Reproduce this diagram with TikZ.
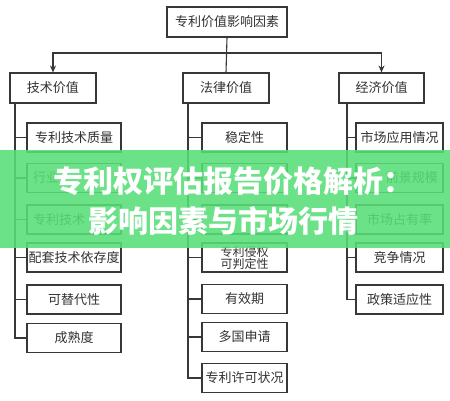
\documentclass[tikz,border=0pt]{standalone}
\usepackage{fontspec}
\newfontfamily\cjk{Noto Sans CJK SC}
\usetikzlibrary{arrows.meta}
\definecolor{linec}{RGB}{55,55,55}
\definecolor{txtc}{RGB}{50,50,50}
\definecolor{bannergreen}{RGB}{88,222,120}
\tikzset{
  box/.style={draw=linec, line width=1.1pt, fill=white, minimum height=29pt, inner sep=0pt,
    font=\cjk\fontsize{13}{14}\selectfont, text=txtc},
  lbox/.style={box, minimum width=94pt},
  mbox/.style={box, minimum width=85pt},
  rbox/.style={box, minimum width=87pt},
  conn/.style={draw=linec, line width=1.1pt},
  arr/.style={conn, -{Stealth[length=7pt,width=6pt]}},
  frag/.style={font=\cjk\fontsize{13}{14}\selectfont, text=txtc, inner sep=0pt},
  bannertext/.style={font=\cjk\bfseries\fontsize{30}{32}\selectfont, text=white, inner sep=0pt},
}
\begin{document}
\begin{tikzpicture}[x=1pt,y=-1pt]
\useasboundingbox (0,0) rectangle (450,400);
\fill[white] (0,0) rectangle (450,400);

% top level
\node[box, minimum width=120pt, minimum height=30pt] (top) at (227,22) {专利价值影响因素};
\node[box, minimum width=86pt, minimum height=30pt] (tech) at (53,88) {技术价值};
\node[box, minimum width=86pt, minimum height=30pt] (law) at (226,88) {法律价值};
\node[box, minimum width=85pt, minimum height=30pt] (econ) at (381.5,88) {经济价值};

\coordinate (j) at (227,53);
\draw[conn] (top.south) -- (law.north);
\draw[arr] (j) -| (tech.north);
\draw[arr] (j) -| (econ.north);

% left column
\node[lbox] (a1) at (74,137.5) {专利技术质量};
\node[lbox] (a2) at (74,178) {};
\node[lbox] (a3) at (74,219.5) {};
\node[lbox] (a4) at (74,257.5) {配套技术依存度};
\node[lbox] (a5) at (74,299.5) {可替代性};
\node[lbox] (a6) at (74,338) {成熟度};
\node[frag, anchor=west] (a2t) at (33,178) {行业};
\node[frag, anchor=west] (a3t) at (33,219.5) {专利技术};

% middle column
\node[mbox] (b1) at (244.5,137.5) {稳定性};
\node[mbox] (b2) at (244.5,178) {};
\node[mbox] (b3) at (244.5,219.5) {};
\node[mbox, align=center, font=\cjk\fontsize{12}{12}\selectfont] (b4) at (244.5,257.5) {专利侵权\\可判定性};
\node[mbox] (b5) at (244.5,299) {有效期};
\node[mbox] (b6) at (244.5,337) {多国申请};
\node[mbox] (b7) at (244.5,378) {专利许可状况};

% right column
\node[rbox] (c1) at (399.5,137.5) {市场应用情况};
\node[rbox] (c2) at (399.5,178) {};
\node[rbox] (c3) at (399.5,219.5) {市场占有率};
\node[rbox] (c4) at (399.5,257.5) {竞争情况};
\node[rbox] (c5) at (399.5,299.5) {政策适应性};
\node[frag, anchor=east] (c2t) at (438,178) {前景规模};

% trunks
\coordinate (lt) at (15,103);
\coordinate (mt) at (188,103);
\coordinate (rt) at (347,103);
\draw[conn] (lt) |- (a6.west);
\foreach \n in {a1,a2,a3,a4,a5} \draw[conn] (lt |- \n.west) -- (\n.west);
\draw[conn] (mt) |- (b7.west);
\foreach \n in {b1,b2,b3,b4,b5,b6} \draw[conn] (mt |- \n.west) -- (\n.west);
\draw[conn] (rt) |- (c5.west);
\foreach \n in {c1,c2,c3,c4} \draw[conn] (rt |- \n.west) -- (\n.west);

% banner
\fill[bannergreen, opacity=0.88] (0,150) rectangle (450,248);
\node[bannertext, anchor=west] (bt1) at (53,181) {专利权评估报告价格解析：};
\node[bannertext, anchor=west] (bt2) at (88,221) {影响因素与市场行情};
\end{tikzpicture}
\end{document}
